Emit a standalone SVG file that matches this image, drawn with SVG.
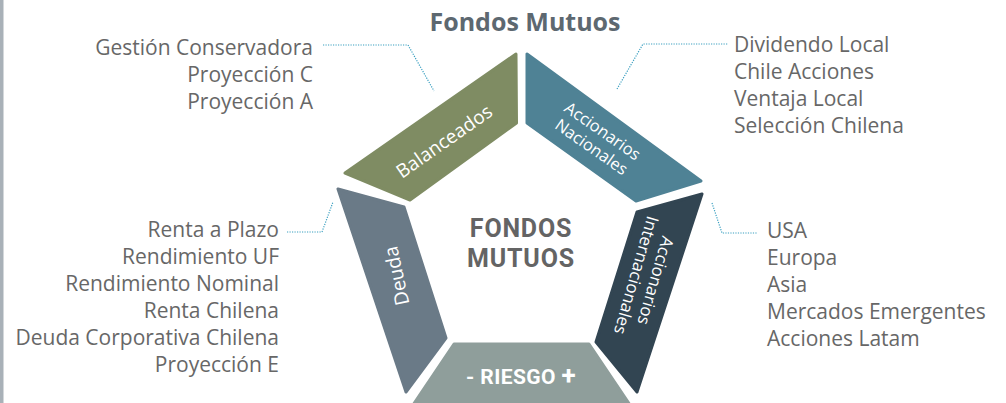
<svg xmlns="http://www.w3.org/2000/svg" width="1006" height="403" viewBox="0 0 1006 403">
<style>
.seg{stroke-width:3;stroke-linejoin:round}
.lst{font-family:"Open Sans","Liberation Sans",sans-serif;font-size:21px;fill:#676767}
.lbl{font-family:"Open Sans","Liberation Sans",sans-serif;fill:#ffffff}
.cond{font-family:Roboto,"Liberation Sans",sans-serif;font-weight:bold}
.lead{fill:none;stroke:#3a9fc0;stroke-width:1.2;stroke-dasharray:1.2 1.3}
</style>
<rect x="0" y="0" width="1006" height="403" fill="#ffffff"/>
<rect x="0" y="0" width="3.5" height="403" fill="#a9b1b8"/>
<text x="525" y="31" text-anchor="middle" font-family="'Open Sans','Liberation Sans',sans-serif" font-weight="bold" font-size="25" fill="#5d6870">Fondos Mutuos</text>
<g id="center">
<text class="cond" x="521" y="237" text-anchor="middle" font-size="25" letter-spacing="0.8" fill="#646464">FONDOS</text>
<text class="cond" x="521" y="266.5" text-anchor="middle" font-size="25" letter-spacing="0.8" fill="#646464">MUTUOS</text>
</g>
<g id="balanceados">
<polygon class="seg" points="345,173 516,54 516.5,123 410,200" fill="#7f8c63" stroke="#7f8c63"/>
<text class="lbl" font-size="19" text-anchor="middle" dominant-baseline="central" transform="translate(444,141) rotate(-35)">Balanceados</text>
</g>
<g id="acc-nacionales">
<polygon class="seg" points="527,54 527,123 636,201 701,181" fill="#4f8295" stroke="#4f8295"/>
<text class="lbl" font-size="16.5" text-anchor="middle" transform="translate(597,139) rotate(35)"><tspan x="0" y="-4">Accionarios</tspan><tspan x="0" y="15.5">Nacionales</tspan></text>
</g>
<g id="deuda">
<polygon class="seg" points="338,189 404,207 446,338 406,392" fill="#6a7a87" stroke="#6a7a87"/>
<text class="lbl" font-size="19.5" text-anchor="middle" dominant-baseline="central" transform="translate(396,276) rotate(-102)">Deuda</text>
</g>
<g id="acc-internacionales">
<polygon class="seg" points="702,194 637,212 596,342 637,392" fill="#324552" stroke="#324552"/>
<text class="lbl" font-size="17" text-anchor="middle" transform="translate(646,278) rotate(106)"><tspan x="0" y="-4">Accionarios</tspan><tspan x="0" y="16">Internacionales</tspan></text>
</g>
<g id="riesgo">
<polygon class="seg" points="454,344 589,344 630,405 413,405" fill="#8f9e9b" stroke="#8f9e9b"/>
<text class="cond" x="521" y="384" text-anchor="middle" font-size="21" letter-spacing="0.4" fill="#ffffff">- RIESGO <tspan font-size="26">+</tspan></text>
</g>
<g id="lists">
<text class="lst" text-anchor="end"><tspan x="313" y="55">Gestión Conservadora</tspan><tspan x="313" y="82">Proyección C</tspan><tspan x="313" y="109">Proyección A</tspan></text>
<text class="lst"><tspan x="734" y="52">Dividendo Local</tspan><tspan x="734" y="79">Chile Acciones</tspan><tspan x="734" y="106">Ventaja Local</tspan><tspan x="734" y="133">Selección Chilena</tspan></text>
<text class="lst" text-anchor="end"><tspan x="279" y="237">Renta a Plazo</tspan><tspan x="279" y="264">Rendimiento UF</tspan><tspan x="279" y="291">Rendimiento Nominal</tspan><tspan x="279" y="318">Renta Chilena</tspan><tspan x="279" y="345">Deuda Corporativa Chilena</tspan><tspan x="279" y="372">Proyección E</tspan></text>
<text class="lst"><tspan x="767" y="238">USA</tspan><tspan x="767" y="265">Europa</tspan><tspan x="767" y="292">Asia</tspan><tspan x="767" y="319">Mercados Emergentes</tspan><tspan x="767" y="346">Acciones Latam</tspan></text>
</g>
<g id="connectors">
<path class="lead" d="M323,45 H408 L434,91"/>
<path class="lead" d="M617,89 L643,44 H728"/>
<path class="lead" d="M287,232 H322 L333,202"/>
<path class="lead" d="M712,203 L722,233 H757"/>
</g>
</svg>
